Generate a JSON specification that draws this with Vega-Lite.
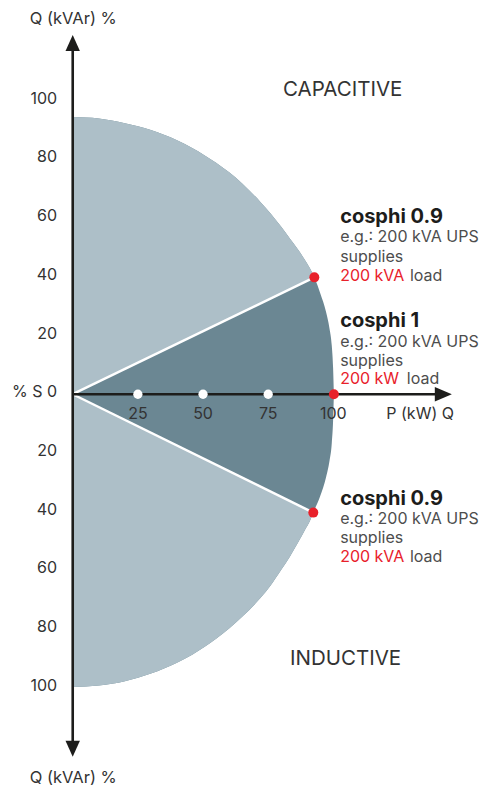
{
  "$schema": "https://vega.github.io/schema/vega-lite/v6.json",
  "width": 484,
  "height": 787,
  "autosize": {"type": "fit", "contains": "padding"},
  "padding": 0,
  "background": "#ffffff",
  "config": {"view": {"stroke": null}, "text": {"font": "Inter"}},
  "datasets": {
    "fill": [
      {"part": "disc", "p": 0, "q": 94.4, "q2": -99.7},
      {"part": "disc", "p": 10, "q": 93.9, "q2": -99.2},
      {"part": "disc", "p": 20, "q": 92.3, "q2": -97.7},
      {"part": "disc", "p": 30, "q": 90.0, "q2": -95.1},
      {"part": "disc", "p": 40, "q": 86.5, "q2": -91.4},
      {"part": "disc", "p": 46, "q": 83.8, "q2": -88.6},
      {"part": "disc", "p": 55, "q": 78.8, "q2": -83.3},
      {"part": "disc", "p": 65, "q": 71.8, "q2": -75.8},
      {"part": "disc", "p": 72, "q": 65.5, "q2": -69.4},
      {"part": "disc", "p": 76, "q": 61.5, "q2": -65.0},
      {"part": "disc", "p": 80, "q": 57.0, "q2": -59.8},
      {"part": "disc", "p": 83.3, "q": 53.0, "q2": -55.3},
      {"part": "disc", "p": 86.5, "q": 49.2, "q2": -50.4},
      {"part": "disc", "p": 89.1, "q": 45.7, "q2": -46.2},
      {"part": "disc", "p": 91, "q": 42.9, "q2": -43.2},
      {"part": "disc", "p": 92.3, "q": 40.6, "q2": -40.3},
      {"part": "disc", "p": 92.7, "q": 39.8, "q2": -39.5},
      {"part": "disc", "p": 95, "q": 34.3, "q2": -34.6},
      {"part": "disc", "p": 97.2, "q": 28.0, "q2": -28.3},
      {"part": "disc", "p": 98.5, "q": 22.5, "q2": -22.8},
      {"part": "disc", "p": 99.4, "q": 16.5, "q2": -16.6},
      {"part": "disc", "p": 99.9, "q": 9.0, "q2": -9.0},
      {"part": "disc", "p": 100.2, "q": 0, "q2": 0},
      {"part": "capacitive", "p": 0, "q": 94.4, "q2": 0},
      {"part": "capacitive", "p": 10, "q": 93.9, "q2": 4.29},
      {"part": "capacitive", "p": 20, "q": 92.3, "q2": 8.59},
      {"part": "capacitive", "p": 30, "q": 90.0, "q2": 12.88},
      {"part": "capacitive", "p": 40, "q": 86.5, "q2": 17.17},
      {"part": "capacitive", "p": 46, "q": 83.8, "q2": 19.75},
      {"part": "capacitive", "p": 55, "q": 78.8, "q2": 23.61},
      {"part": "capacitive", "p": 65, "q": 71.8, "q2": 27.91},
      {"part": "capacitive", "p": 72, "q": 65.5, "q2": 30.91},
      {"part": "capacitive", "p": 76, "q": 61.5, "q2": 32.63},
      {"part": "capacitive", "p": 80, "q": 57.0, "q2": 34.35},
      {"part": "capacitive", "p": 83.3, "q": 53.0, "q2": 35.76},
      {"part": "capacitive", "p": 86.5, "q": 49.2, "q2": 37.14},
      {"part": "capacitive", "p": 89.1, "q": 45.7, "q2": 38.25},
      {"part": "capacitive", "p": 91, "q": 42.9, "q2": 39.07},
      {"part": "capacitive", "p": 92.3, "q": 40.6, "q2": 39.63},
      {"part": "capacitive", "p": 92.7, "q": 39.8, "q2": 39.8},
      {"part": "inductive", "p": 0, "q": -99.7, "q2": 0},
      {"part": "inductive", "p": 10, "q": -99.2, "q2": -4.37},
      {"part": "inductive", "p": 20, "q": -97.7, "q2": -8.73},
      {"part": "inductive", "p": 30, "q": -95.1, "q2": -13.10},
      {"part": "inductive", "p": 40, "q": -91.4, "q2": -17.46},
      {"part": "inductive", "p": 46, "q": -88.6, "q2": -20.08},
      {"part": "inductive", "p": 55, "q": -83.3, "q2": -24.01},
      {"part": "inductive", "p": 65, "q": -75.8, "q2": -28.38},
      {"part": "inductive", "p": 72, "q": -69.4, "q2": -31.44},
      {"part": "inductive", "p": 76, "q": -65.0, "q2": -33.18},
      {"part": "inductive", "p": 80, "q": -59.8, "q2": -34.93},
      {"part": "inductive", "p": 83.3, "q": -55.3, "q2": -36.37},
      {"part": "inductive", "p": 86.5, "q": -50.4, "q2": -37.77},
      {"part": "inductive", "p": 89.1, "q": -46.2, "q2": -38.90},
      {"part": "inductive", "p": 91, "q": -43.2, "q2": -39.73},
      {"part": "inductive", "p": 92.3, "q": -40.3, "q2": -40.3}
    ],
    "edges": [
      {"part": "edgeUp", "p": 0, "q": 0},
      {"part": "edgeUp", "p": 92.7, "q": 39.8},
      {"part": "edgeDown", "p": 0, "q": 0},
      {"part": "edgeDown", "p": 92.3, "q": -40.3}
    ],
    "axes": [
      {"axis": "Q", "p": 0, "q": 120, "p2": 0, "q2": -121},
      {"axis": "P", "p": 0, "q": 0, "p2": 139, "q2": 0}
    ],
    "arrows": [
      {"dir": "up", "p": 0, "q": 119.6},
      {"dir": "down", "p": 0, "q": -120.7},
      {"dir": "right", "p": 142.2, "q": 0}
    ],
    "dots": [
      {"p": 25, "q": 0, "kind": "tick"},
      {"p": 50, "q": 0, "kind": "tick"},
      {"p": 75, "q": 0, "kind": "tick"},
      {"p": 92.7, "q": 39.8, "kind": "load"},
      {"p": 100.2, "q": 0, "kind": "load"},
      {"p": 92.3, "q": -40.3, "kind": "load"}
    ],
    "yticks": [
      {"p": -6, "q": 100, "label": "100"},
      {"p": -6, "q": 80, "label": "80"},
      {"p": -6, "q": 60, "label": "60"},
      {"p": -6, "q": 40, "label": "40"},
      {"p": -6, "q": 20, "label": "20"},
      {"p": -6, "q": 0, "label": "% S 0"},
      {"p": -6, "q": -20, "label": "20"},
      {"p": -6, "q": -40, "label": "40"},
      {"p": -6, "q": -60, "label": "60"},
      {"p": -6, "q": -80, "label": "80"},
      {"p": -6, "q": -100, "label": "100"}
    ],
    "xticks": [
      {"p": 25, "q": -6.6, "label": "25"},
      {"p": 50, "q": -6.6, "label": "50"},
      {"p": 75, "q": -6.6, "label": "75"},
      {"p": 100, "q": -6.6, "label": "100"},
      {"p": 133.3, "q": -6.6, "label": "P (kW) Q"}
    ],
    "notes": [
      {"style": "title", "text": "cosphi 0.9", "p": 102.6, "q": 60.5},
      {"style": "body", "text": "e.g.: 200 kVA UPS", "p": 102.6, "q": 53.7},
      {"style": "body", "text": "supplies", "p": 102.6, "q": 46.9},
      {"style": "red", "text": "200 kVA", "p": 102.6, "q": 40.1},
      {"style": "body", "text": "load", "p": 129.4, "q": 40.1},
      {"style": "title", "text": "cosphi 1", "p": 102.6, "q": 24.8},
      {"style": "body", "text": "e.g.: 200 kVA UPS", "p": 102.6, "q": 17.7},
      {"style": "body", "text": "supplies", "p": 102.6, "q": 11.2},
      {"style": "red", "text": "200 kW", "p": 102.6, "q": 5.2},
      {"style": "body", "text": "load", "p": 128.2, "q": 5.2},
      {"style": "title", "text": "cosphi 0.9", "p": 102.6, "q": -35.8},
      {"style": "body", "text": "e.g.: 200 kVA UPS", "p": 102.6, "q": -42.6},
      {"style": "body", "text": "supplies", "p": 102.6, "q": -49.1},
      {"style": "red", "text": "200 kVA", "p": 102.6, "q": -55.5},
      {"style": "body", "text": "load", "p": 129.4, "q": -55.5}
    ],
    "regions": [
      {"kind": "zone", "text": "CAPACITIVE", "p": 103.6, "q": 103.6},
      {"kind": "zone", "text": "INDUCTIVE", "p": 104.7, "q": -90.2},
      {"kind": "axis", "text": "Q (kVAr) %", "p": 0.2, "q": 127.8},
      {"kind": "axis", "text": "Q (kVAr) %", "p": 0.2, "q": -130.7}
    ]
  },
  "encoding": {
    "x": {"field": "p", "type": "quantitative", "scale": {"domain": [-27.9, 157.8], "nice": false, "zero": false}, "axis": null},
    "y": {"field": "q", "type": "quantitative", "scale": {"domain": [-133.4, 134.25], "nice": false, "zero": false}, "axis": null}
  },
  "layer": [
    {
      "data": {"name": "fill"},
      "transform": [{"filter": "datum.part === 'disc'"}],
      "mark": {"type": "area", "orient": "vertical", "color": "#6b8793", "interpolate": "monotone", "opacity": 1},
      "encoding": {"y2": {"field": "q2"}}
    },
    {
      "data": {"name": "fill"},
      "transform": [{"filter": "datum.part !== 'disc'"}],
      "mark": {"type": "area", "orient": "vertical", "color": "#adbfc8", "interpolate": "monotone", "opacity": 1},
      "encoding": {"y2": {"field": "q2"}, "detail": {"field": "part"}}
    },
    {
      "data": {"name": "edges"},
      "mark": {"type": "line", "color": "#ffffff", "strokeWidth": 2.5},
      "encoding": {"detail": {"field": "part"}}
    },
    {
      "data": {"name": "axes"},
      "mark": {"type": "rule", "color": "#1d1d1b", "strokeWidth": 2.6},
      "encoding": {"x2": {"field": "p2"}, "y2": {"field": "q2"}}
    },
    {
      "data": {"name": "arrows"},
      "transform": [{"filter": "datum.dir === 'up'"}],
      "mark": {"type": "point", "shape": "M-0.9,1L0,-1L0.9,1Z", "size": 256, "filled": true, "color": "#1d1d1b", "opacity": 1},
      "encoding": {}
    },
    {
      "data": {"name": "arrows"},
      "transform": [{"filter": "datum.dir === 'down'"}],
      "mark": {"type": "point", "shape": "M-0.9,-1L0,1L0.9,-1Z", "size": 256, "filled": true, "color": "#1d1d1b", "opacity": 1},
      "encoding": {}
    },
    {
      "data": {"name": "arrows"},
      "transform": [{"filter": "datum.dir === 'right'"}],
      "mark": {"type": "point", "shape": "M-1,-0.85L1,0L-1,0.85Z", "size": 289, "filled": true, "color": "#1d1d1b", "opacity": 1},
      "encoding": {}
    },
    {
      "data": {"name": "dots"},
      "transform": [{"filter": "datum.kind === 'tick'"}],
      "mark": {"type": "circle", "color": "#ffffff", "size": 86, "opacity": 1},
      "encoding": {}
    },
    {
      "data": {"name": "dots"},
      "transform": [{"filter": "datum.kind === 'load'"}],
      "mark": {"type": "circle", "color": "#e8212b", "size": 100, "opacity": 1},
      "encoding": {}
    },
    {
      "data": {"name": "yticks"},
      "mark": {"type": "text", "align": "right", "baseline": "middle", "fontSize": 16, "color": "#333333", "dy": -2},
      "encoding": {"text": {"field": "label"}}
    },
    {
      "data": {"name": "xticks"},
      "mark": {"type": "text", "align": "center", "baseline": "middle", "fontSize": 16, "color": "#333333"},
      "encoding": {"text": {"field": "label"}}
    },
    {
      "data": {"name": "regions"},
      "transform": [{"filter": "datum.kind === 'zone'"}],
      "mark": {"type": "text", "align": "center", "baseline": "middle", "fontSize": 20.5, "color": "#333333"},
      "encoding": {"text": {"field": "text"}}
    },
    {
      "data": {"name": "regions"},
      "transform": [{"filter": "datum.kind === 'axis'"}],
      "mark": {"type": "text", "align": "center", "baseline": "middle", "fontSize": 16.5, "color": "#333333"},
      "encoding": {"text": {"field": "text"}}
    },
    {
      "data": {"name": "notes"},
      "transform": [{"filter": "datum.style === 'title'"}],
      "mark": {"type": "text", "align": "left", "baseline": "middle", "fontSize": 20, "fontWeight": "bold", "color": "#1d1d1b"},
      "encoding": {"text": {"field": "text"}}
    },
    {
      "data": {"name": "notes"},
      "transform": [{"filter": "datum.style === 'body'"}],
      "mark": {"type": "text", "align": "left", "baseline": "middle", "fontSize": 16, "color": "#4d4d4d"},
      "encoding": {"text": {"field": "text"}}
    },
    {
      "data": {"name": "notes"},
      "transform": [{"filter": "datum.style === 'red'"}],
      "mark": {"type": "text", "align": "left", "baseline": "middle", "fontSize": 16, "color": "#e8212b"},
      "encoding": {"text": {"field": "text"}}
    }
  ]
}
